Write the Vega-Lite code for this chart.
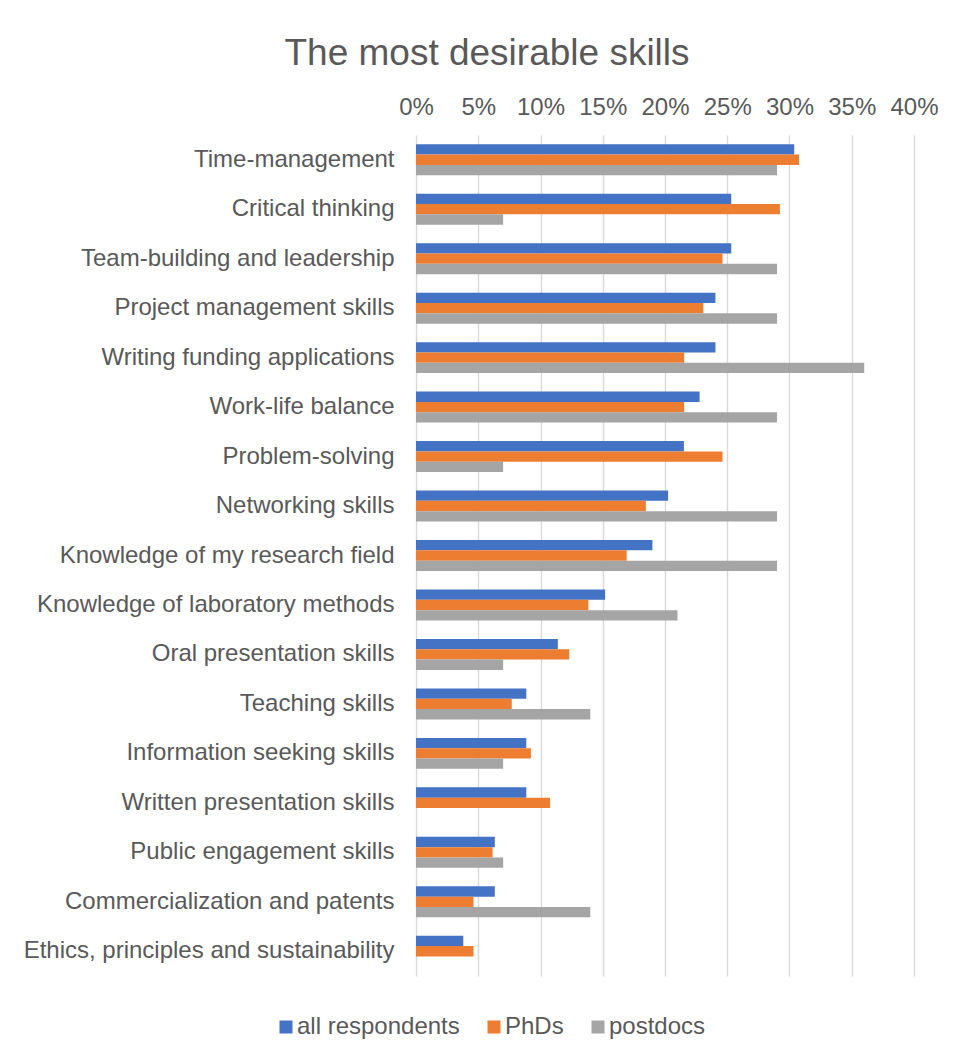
{
  "$schema": "https://vega.github.io/schema/vega-lite/v6.json",
  "width": 498,
  "height": 841,
  "autosize": {"type": "none"},
  "padding": {"left": 416, "top": 135, "right": 40, "bottom": 81},
  "background": "white",
  "title": {
    "text": "The most desirable skills",
    "anchor": "middle",
    "frame": "group",
    "dx": -178,
    "offset": -7,
    "baseline": "alphabetic",
    "font": "Liberation Sans",
    "fontSize": 37,
    "fontWeight": "normal",
    "color": "#595959"
  },
  "data": {
    "values": [
      {"skill": "Time-management", "group": "all respondents", "value": 0.3038},
      {"skill": "Time-management", "group": "PhDs", "value": 0.3077},
      {"skill": "Time-management", "group": "postdocs", "value": 0.29},
      {"skill": "Critical thinking", "group": "all respondents", "value": 0.2532},
      {"skill": "Critical thinking", "group": "PhDs", "value": 0.2923},
      {"skill": "Critical thinking", "group": "postdocs", "value": 0.07},
      {"skill": "Team-building and leadership", "group": "all respondents", "value": 0.2532},
      {"skill": "Team-building and leadership", "group": "PhDs", "value": 0.2462},
      {"skill": "Team-building and leadership", "group": "postdocs", "value": 0.29},
      {"skill": "Project management skills", "group": "all respondents", "value": 0.2405},
      {"skill": "Project management skills", "group": "PhDs", "value": 0.2308},
      {"skill": "Project management skills", "group": "postdocs", "value": 0.29},
      {"skill": "Writing funding applications", "group": "all respondents", "value": 0.2405},
      {"skill": "Writing funding applications", "group": "PhDs", "value": 0.2154},
      {"skill": "Writing funding applications", "group": "postdocs", "value": 0.36},
      {"skill": "Work-life balance", "group": "all respondents", "value": 0.2278},
      {"skill": "Work-life balance", "group": "PhDs", "value": 0.2154},
      {"skill": "Work-life balance", "group": "postdocs", "value": 0.29},
      {"skill": "Problem-solving", "group": "all respondents", "value": 0.2152},
      {"skill": "Problem-solving", "group": "PhDs", "value": 0.2462},
      {"skill": "Problem-solving", "group": "postdocs", "value": 0.07},
      {"skill": "Networking skills", "group": "all respondents", "value": 0.2025},
      {"skill": "Networking skills", "group": "PhDs", "value": 0.1846},
      {"skill": "Networking skills", "group": "postdocs", "value": 0.29},
      {"skill": "Knowledge of my research field", "group": "all respondents", "value": 0.1899},
      {"skill": "Knowledge of my research field", "group": "PhDs", "value": 0.1692},
      {"skill": "Knowledge of my research field", "group": "postdocs", "value": 0.29},
      {"skill": "Knowledge of laboratory methods", "group": "all respondents", "value": 0.1519},
      {"skill": "Knowledge of laboratory methods", "group": "PhDs", "value": 0.1385},
      {"skill": "Knowledge of laboratory methods", "group": "postdocs", "value": 0.21},
      {"skill": "Oral presentation skills", "group": "all respondents", "value": 0.1139},
      {"skill": "Oral presentation skills", "group": "PhDs", "value": 0.1231},
      {"skill": "Oral presentation skills", "group": "postdocs", "value": 0.07},
      {"skill": "Teaching skills", "group": "all respondents", "value": 0.0886},
      {"skill": "Teaching skills", "group": "PhDs", "value": 0.0769},
      {"skill": "Teaching skills", "group": "postdocs", "value": 0.14},
      {"skill": "Information seeking skills", "group": "all respondents", "value": 0.0886},
      {"skill": "Information seeking skills", "group": "PhDs", "value": 0.0923},
      {"skill": "Information seeking skills", "group": "postdocs", "value": 0.07},
      {"skill": "Written presentation skills", "group": "all respondents", "value": 0.0886},
      {"skill": "Written presentation skills", "group": "PhDs", "value": 0.1077},
      {"skill": "Written presentation skills", "group": "postdocs", "value": 0},
      {"skill": "Public engagement skills", "group": "all respondents", "value": 0.0633},
      {"skill": "Public engagement skills", "group": "PhDs", "value": 0.0615},
      {"skill": "Public engagement skills", "group": "postdocs", "value": 0.07},
      {"skill": "Commercialization and patents", "group": "all respondents", "value": 0.0633},
      {"skill": "Commercialization and patents", "group": "PhDs", "value": 0.0462},
      {"skill": "Commercialization and patents", "group": "postdocs", "value": 0.14},
      {"skill": "Ethics, principles and sustainability", "group": "all respondents", "value": 0.038},
      {"skill": "Ethics, principles and sustainability", "group": "PhDs", "value": 0.0462},
      {"skill": "Ethics, principles and sustainability", "group": "postdocs", "value": 0}
    ]
  },
  "mark": {"type": "bar"},
  "encoding": {
    "y": {
      "field": "skill",
      "type": "nominal",
      "sort": null,
      "scale": {"paddingInner": 0.374, "paddingOuter": 0.187},
      "axis": {
        "title": null,
        "ticks": false,
        "domain": false,
        "labelPadding": 22,
        "labelLimit": 0,
        "labelFont": "Liberation Sans",
        "labelFontSize": 24,
        "labelColor": "#595959"
      }
    },
    "yOffset": {
      "field": "group",
      "type": "nominal",
      "sort": ["all respondents", "PhDs", "postdocs"],
      "scale": {"paddingInner": 0, "paddingOuter": 0}
    },
    "x": {
      "field": "value",
      "type": "quantitative",
      "scale": {"domain": [0, 0.4], "nice": false},
      "axis": {
        "orient": "top",
        "title": null,
        "format": ".0%",
        "values": [0, 0.05, 0.1, 0.15, 0.2, 0.25, 0.3, 0.35, 0.4],
        "labelOverlap": false,
        "labelFlush": false,
        "ticks": false,
        "domain": false,
        "labelPadding": 16,
        "labelFont": "Liberation Sans",
        "labelFontSize": 24,
        "labelColor": "#595959",
        "grid": true,
        "gridColor": "#d9d9d9",
        "gridWidth": 1.4
      }
    },
    "color": {
      "field": "group",
      "type": "nominal",
      "sort": ["all respondents", "PhDs", "postdocs"],
      "scale": {
        "domain": ["all respondents", "PhDs", "postdocs"],
        "range": ["#4472C4", "#ED7D31", "#A5A5A5"]
      },
      "legend": {
        "title": null,
        "orient": "none",
        "direction": "horizontal",
        "legendX": -142,
        "legendY": 880,
        "symbolType": "square",
        "symbolSize": 169,
        "symbolStrokeWidth": 0,
        "labelOffset": -1,
        "columnPadding": 22,
        "labelLimit": 400,
        "labelFont": "Liberation Sans",
        "labelFontSize": 24,
        "labelColor": "#595959"
      }
    }
  },
  "config": {
    "view": {"stroke": null}
  }
}
